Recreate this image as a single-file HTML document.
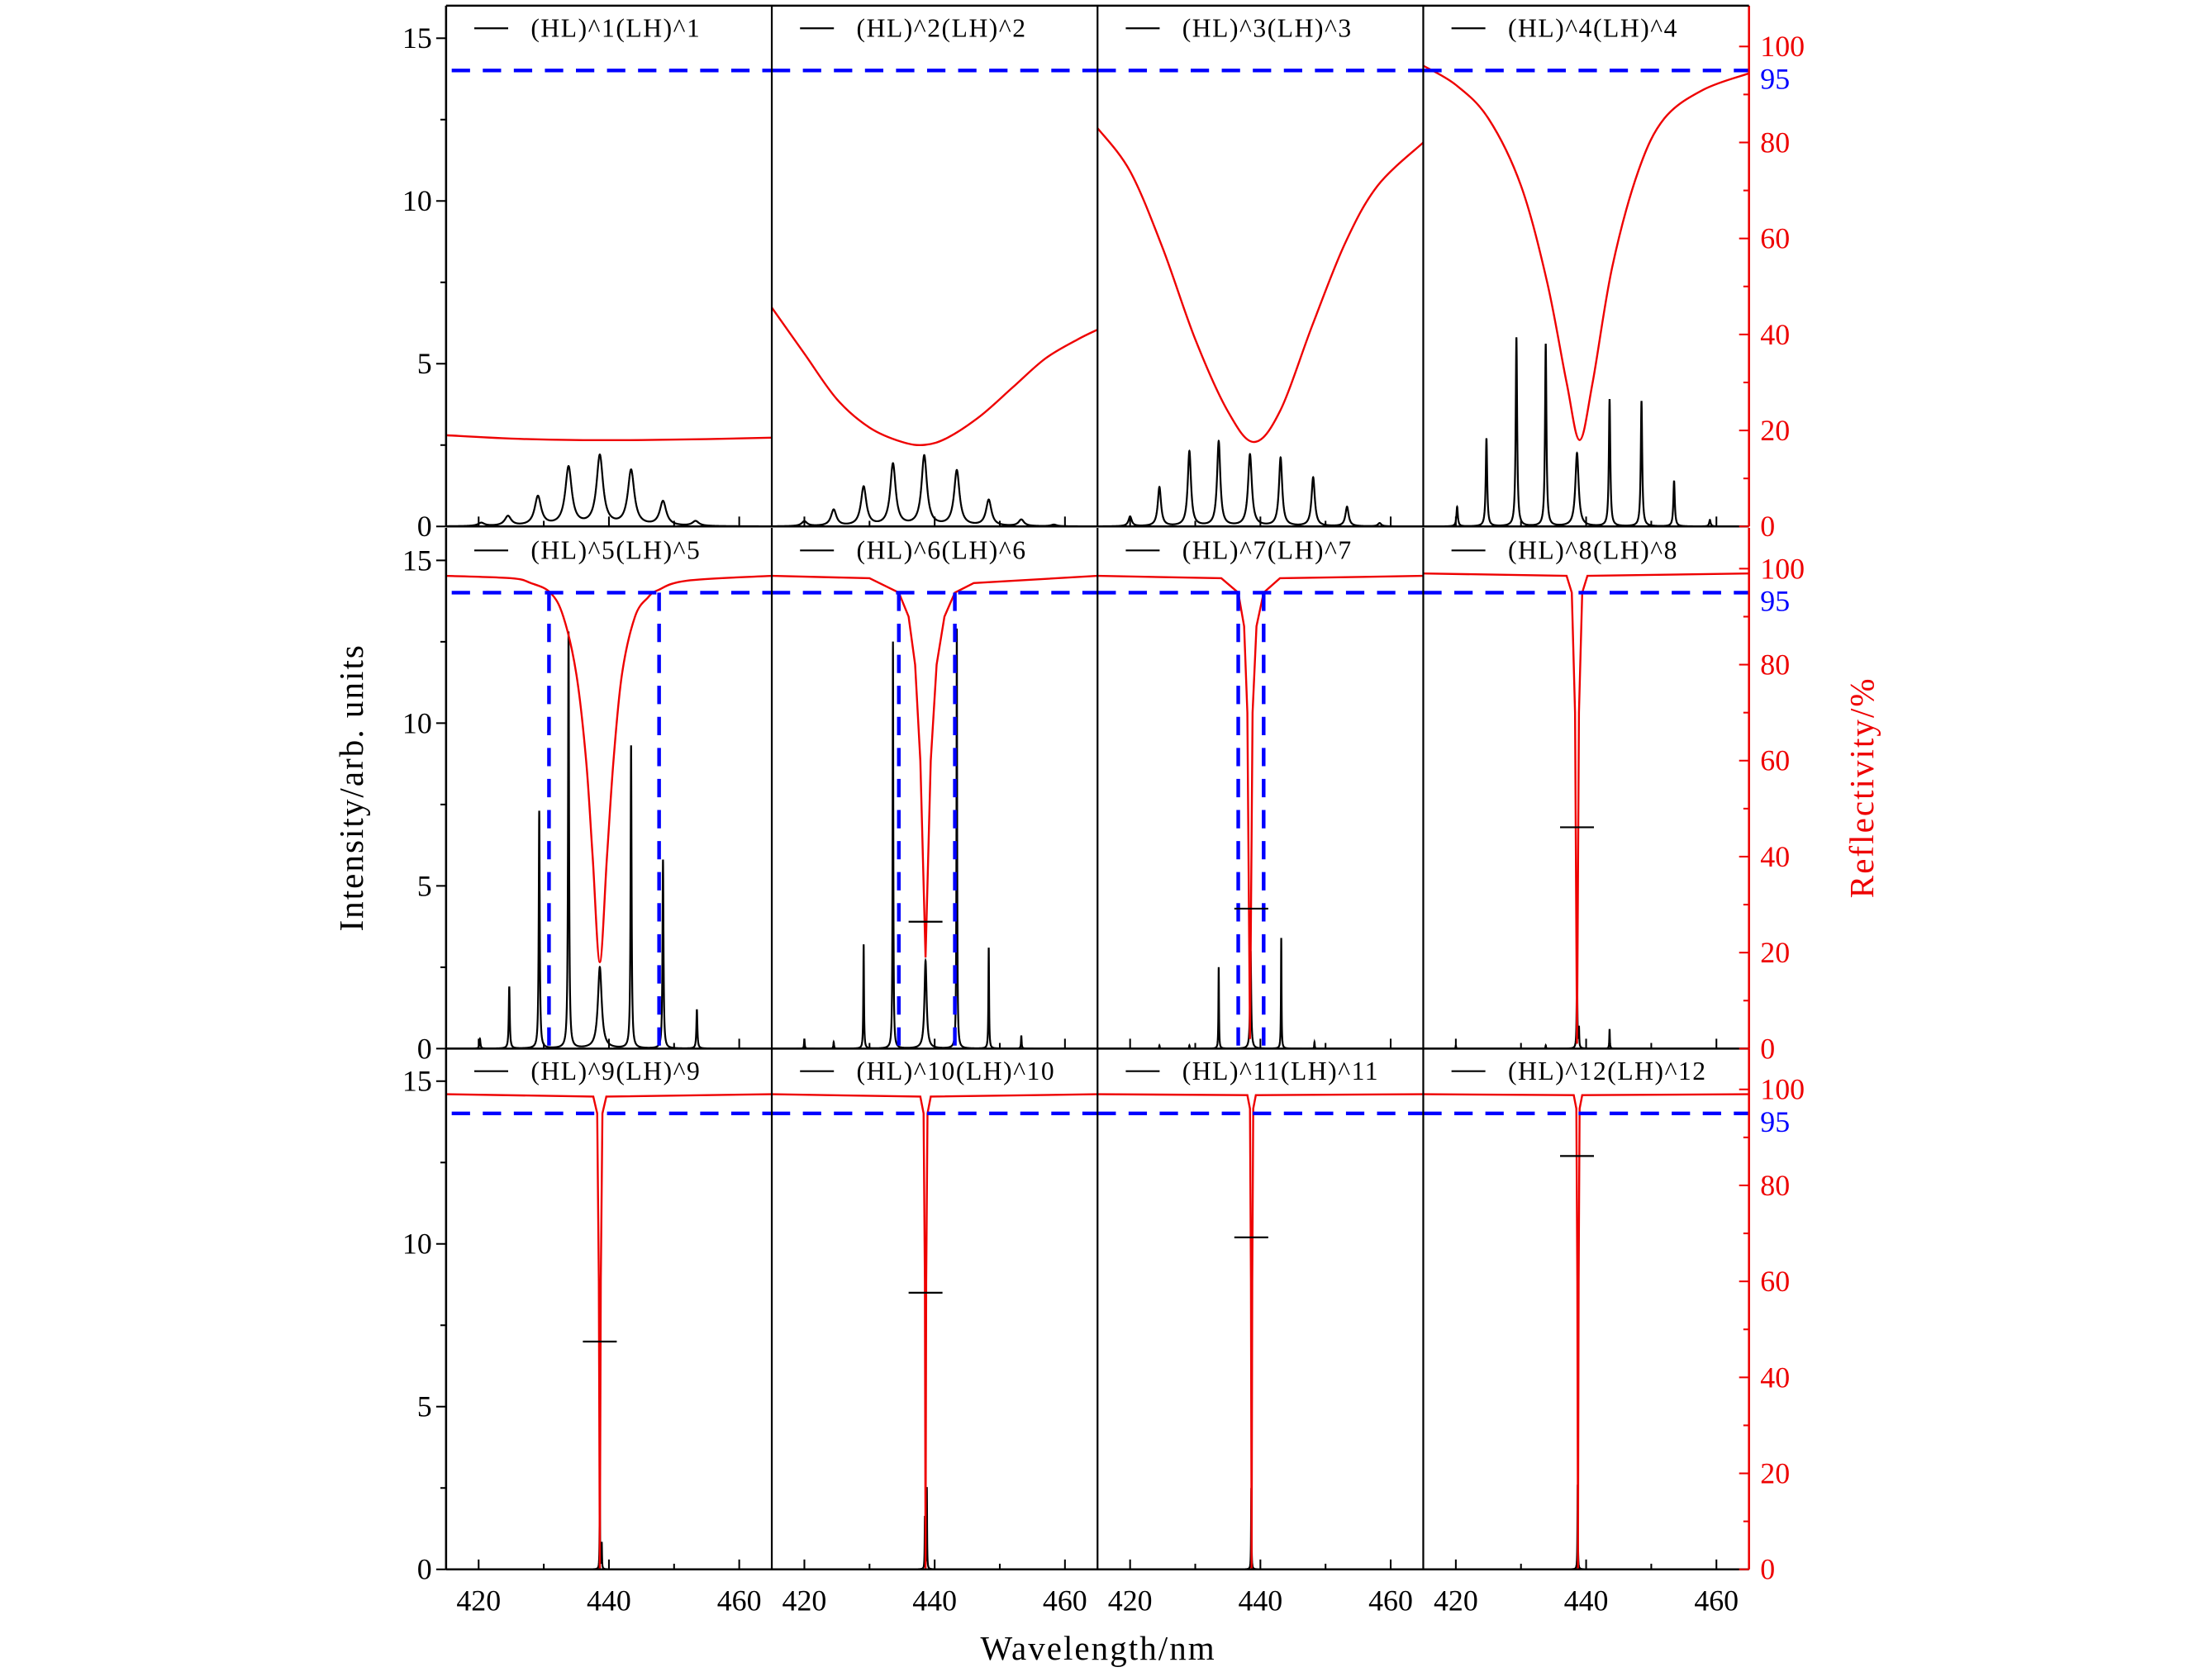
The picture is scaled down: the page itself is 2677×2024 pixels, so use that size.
<!DOCTYPE html>
<html><head><meta charset="utf-8"><style>
html,body{margin:0;padding:0;background:#fff}
svg{display:block}
text{font-family:"Liberation Serif",serif}
</style></head><body>
<svg id="chart" xmlns="http://www.w3.org/2000/svg" width="2677" height="2024" viewBox="0 0 1567 1184.7">
<rect width="1567" height="1184.7" fill="#fff"/>
<g id="plots"></g>
<text x="0" y="0" transform="translate(257,558) rotate(-90)" text-anchor="middle" font-size="24" letter-spacing="1.2">Intensity/arb. units</text>
<text x="0" y="0" transform="translate(1327,558) rotate(-90)" text-anchor="middle" font-size="24" letter-spacing="1.2" fill="#e00">Reflectivity/%</text>
<text x="778" y="1176" text-anchor="middle" font-size="24" letter-spacing="1.2">Wavelength/nm</text>
</svg>
<script>
// ---- data ----
const labels = ["(HL)^1(LH)^1","(HL)^2(LH)^2","(HL)^3(LH)^3","(HL)^4(LH)^4","(HL)^5(LH)^5","(HL)^6(LH)^6","(HL)^7(LH)^7","(HL)^8(LH)^8","(HL)^9(LH)^9","(HL)^10(LH)^10","(HL)^11(LH)^11","(HL)^12(LH)^12"];
const xTicks = [420,440,460];
const yTicks = [0,5,10,15];
const rTicks = [0,20,40,60,80,100];
const threshold = 95;
const peakPos = [
 [420.4,424.5,429.1,433.8,438.6,443.4,448.3,453.3],
 [420.0,424.5,429.1,433.6,438.4,443.4,448.3,453.3,458.3],
 [420.0,424.5,429.1,433.6,438.4,443.1,448.1,453.3,458.3],
 [420.2,424.7,429.3,433.8,438.6,443.6,448.5,453.5,459.0],
 [420.2,424.7,429.3,433.8,438.6,443.4,448.3,453.5],
 [420.0,424.5,429.1,433.6,438.6,443.4,448.3,453.3],
 [424.5,429.1,433.6,438.5,443.2,448.3],
 [420.0,433.8,438.6,438.9,443.6],
 [438.6,438.9],
 [438.5,438.8],
 [438.6],
 [438.7]
];
const peakH = [
 [0.1,0.3,0.9,1.8,2.15,1.7,0.75,0.15],
 [0.15,0.5,1.2,1.9,2.15,1.7,0.8,0.2,0.05],
 [0.3,1.2,2.3,2.6,2.2,2.1,1.5,0.6,0.1],
 [0.6,2.7,5.8,5.6,2.25,3.9,3.85,1.4,0.2],
 [0.3,1.9,7.3,12.8,2.5,9.3,5.8,1.2],
 [0.3,0.2,3.2,12.5,2.7,12.9,3.1,0.4],
 [0.1,0.1,2.5,3.0,3.4,0.2],
 [0.1,0.1,2.7,0.6,0.6],
 [2.6,0.8],
 [1.6,2.5],
 [2.5],
 [2.6]
];
const peakW = [0.6,0.5,0.3,0.13,0.09,0.06,0.05,0.05,0.04,0.04,0.04,0.04];
const centerW = [0.6,0.5,0.35,0.3,0.35,0.2,0.1,0.06,0.04,0.04,0.04,0.04];
const markerH = [null,null,null,null,null,3.9,4.3,6.8,7.0,8.5,10.2,12.7];
const reflX = [
 [415,425,435,445,455,465],
 [415,420,425,430,435,438.5,442,447,452,457,462,465],
 [415,420,425,430,435,439,443,448,453,458,465],
 [415,420,425,430,434,437,439,441,444,448,452,458,465],
 [415,425,428,431,433,435,436.5,437.5,438.6,439.7,440.7,442,444,446,447.5,452,465],
 [415,430,433,434.5,436,437,437.8,438.6,439.4,440.3,441.5,443.1,446,465],
 [415,434,436.6,437.5,438,438.4,438.8,439.4,440.5,443,465],
 [415,437,437.8,438.3,438.6,438.9,439.4,440.2,465],
 [415,437.6,438.2,438.45,438.6,438.75,439.0,439.6,465],
 [415,437.8,438.3,438.5,438.6,438.7,438.9,439.4,465],
 [415,438.0,438.4,438.55,438.65,438.75,438.9,439.3,465],
 [415,438.1,438.5,438.65,438.75,438.85,439.0,439.4,465]
];
const reflY = [
 [19,18.3,18,18,18.2,18.5],
 [45.6,36,26.5,20.6,17.6,17,18.5,23,29,35,39,41],
 [83,74,58,39,24,17.6,24,42,59,71,80],
 [96,92,85,71,51,30,18,30,54,74,85,91,94.4],
 [98.5,98,97,95,90,78,60,40,18,40,60,78,90,94,95.5,97.5,98.5],
 [98.5,98,96,95,90,80,60,19,60,80,90,95,97,98.5],
 [98.5,98,95,88,70,2,70,88,95,98,98.5],
 [99,98.5,95,70,1,70,95,98.5,99],
 [99,98.5,95,60,0,60,95,98.5,99],
 [99,98.5,95,60,0,60,95,98.5,99],
 [99,98.8,96,60,0,60,96,98.8,99],
 [99,98.8,96,60,0,60,96,98.8,99]
];
const bandL = [null,null,null,null,430.8,434.5,436.6,null,null,null,null,null];
const bandR = [null,null,null,null,447.7,443.1,440.5,null,null,null,null,null];

// ---- layout ----
const NS="http://www.w3.org/2000/svg";
const X0=316, PW=230.75, XMIN=415, XMAX=465;
const rowBottom=[373,743,1112], RH=369, YMAX=16, RMAX=108.5;
const g=document.getElementById('plots');
function el(tag,attrs,parent){const e=document.createElementNS(NS,tag);for(const k in attrs)e.setAttribute(k,attrs[k]);(parent||g).appendChild(e);return e;}
function xs(c,v){return X0+c*PW+(v-XMIN)/(XMAX-XMIN)*PW;}
function ys(r,v){return rowBottom[r]-v/YMAX*RH;}
function yr(r,v){return rowBottom[r]-v/RMAX*RH;}

for(let i=0;i<12;i++){
  const r=Math.floor(i/4), c=i%4;
  const pg=el('g',{});
  
  
  const left=X0+c*PW, right=left+PW, bot=rowBottom[r], top=bot-RH;
  const cp=el('clipPath',{id:'cp'+i},pg); el('rect',{x:left,y:top,width:PW,height:RH},cp);
  let d='';
  const pos=peakPos[i], h=peakH[i];
  for(let x=XMIN;x<=XMAX+1e-9;x+=0.01){
    let s=0;
    for(let k=0;k<pos.length;k++){
      const w=(Math.abs(pos[k]-438.6)<0.25)?centerW[i]:peakW[i];
      const t=(x-pos[k])/w; s+=h[k]/(1+t*t);
    }
    d+=(d?'L':'M')+xs(c,x).toFixed(2)+' '+ys(r,s).toFixed(2);
  }
  const bl=el('path',{d:d,fill:'none',stroke:'#000','stroke-width':1.3,'clip-path':'url(#cp'+i+')'},pg);
  
  
  const rx=reflX[i], ry=reflY[i];
  const pts=rx.map((v,k)=>[xs(c,v),yr(r,ry[k])]);
  let rd='M'+pts[0][0]+' '+pts[0][1];
  const smooth=i<5;
  for(let k=0;k<pts.length-1;k++){
    if(smooth){
      const p0=pts[Math.max(0,k-1)],p1=pts[k],p2=pts[k+1],p3=pts[Math.min(pts.length-1,k+2)];
      const c1=[p1[0]+(p2[0]-p0[0])/6,p1[1]+(p2[1]-p0[1])/6];
      const c2=[p2[0]-(p3[0]-p1[0])/6,p2[1]-(p3[1]-p1[1])/6];
      rd+='C'+c1[0]+' '+c1[1]+' '+c2[0]+' '+c2[1]+' '+p2[0]+' '+p2[1];
    } else rd+='L'+pts[k+1][0]+' '+pts[k+1][1];
  }
  const rl=el('path',{d:rd,fill:'none',stroke:'#e00','stroke-width':1.4,'clip-path':'url(#cp'+i+')'},pg);
  
  
  const y95=yr(r,threshold);
  const bh=el('line',{x1:left+(c==0?4:0),x2:right,y1:y95,y2:y95,stroke:'#00f','stroke-width':2.6,'stroke-dasharray':'13 9'},pg);
  
  
  if(bandL[i]!==null){
    [bandL[i],bandR[i]].forEach((b,j)=>{
      const v=el('line',{x1:xs(c,b),x2:xs(c,b),y1:y95,y2:bot,stroke:'#00f','stroke-width':2.6,'stroke-dasharray':'13 9'},pg);
      
      
    });
  }
  if(markerH[i]!==null){
    const mx=xs(c,438.6);
    const m=el('line',{x1:mx-12,x2:mx+12,y1:ys(r,markerH[i]),y2:ys(r,markerH[i]),stroke:'#000','stroke-width':1.3},pg);
    
    
  }
  [420,430,440,450,460].forEach(v=>{
    const major=xTicks.includes(v);
    el('line',{x1:xs(c,v),x2:xs(c,v),y1:bot,y2:bot-(major?7:4),stroke:'#000','stroke-width':1.2},pg);
  });
  if(r==2){
    xTicks.forEach(v=>{
      const t=el('text',{x:xs(c,v),y:bot+29,'text-anchor':'middle','font-size':21},pg);
      t.textContent=v;
      
      
    });
  }
  el('line',{x1:left+20,x2:left+44,y1:top+16,y2:top+16,stroke:'#000','stroke-width':1.3},pg);
  const lt=el('text',{x:left+60,y:top+22,'font-size':18.5,'letter-spacing':0.9},pg);
  lt.textContent=labels[i];
  
  
  if(c>0) el('line',{x1:left,x2:left,y1:top,y2:bot,stroke:'#000','stroke-width':1.3},pg);
}
for(let r=0;r<3;r++){
  const bot=rowBottom[r], top=bot-RH, R=X0+4*PW;
  el('line',{x1:X0,x2:R,y1:bot,y2:bot,stroke:'#000','stroke-width':1.5});
  el('line',{x1:X0,x2:X0,y1:top,y2:bot,stroke:'#000','stroke-width':1.5});
  el('line',{x1:R,x2:R,y1:top,y2:bot,stroke:'#e00','stroke-width':1.5});
  if(r==0) el('line',{x1:X0,x2:R,y1:top,y2:top,stroke:'#000','stroke-width':1.5});
  for(let v=0;v<=15;v+=2.5){
    const major=yTicks.includes(v);
    el('line',{x1:X0,x2:X0-(major?7:4),y1:ys(r,v),y2:ys(r,v),stroke:'#000','stroke-width':1.2});
    if(major){const t=el('text',{x:X0-10,y:ys(r,v)+7,'text-anchor':'end','font-size':21});t.textContent=v;
      
      }
  }
  for(let v=0;v<=100;v+=10){
    const major=rTicks.includes(v);
    el('line',{x1:R,x2:R-(major?7:4),y1:yr(r,v),y2:yr(r,v),stroke:'#e00','stroke-width':1.2});
    if(major){const t=el('text',{x:R+8,y:yr(r,v)+7,'font-size':21,fill:'#e00'});t.textContent=v;
      
      }
  }
  const t95=el('text',{x:R+8,y:yr(r,threshold)+13,'font-size':21,fill:'#00f'});
  t95.textContent=threshold;
  
  
}
</script>
</body></html>
